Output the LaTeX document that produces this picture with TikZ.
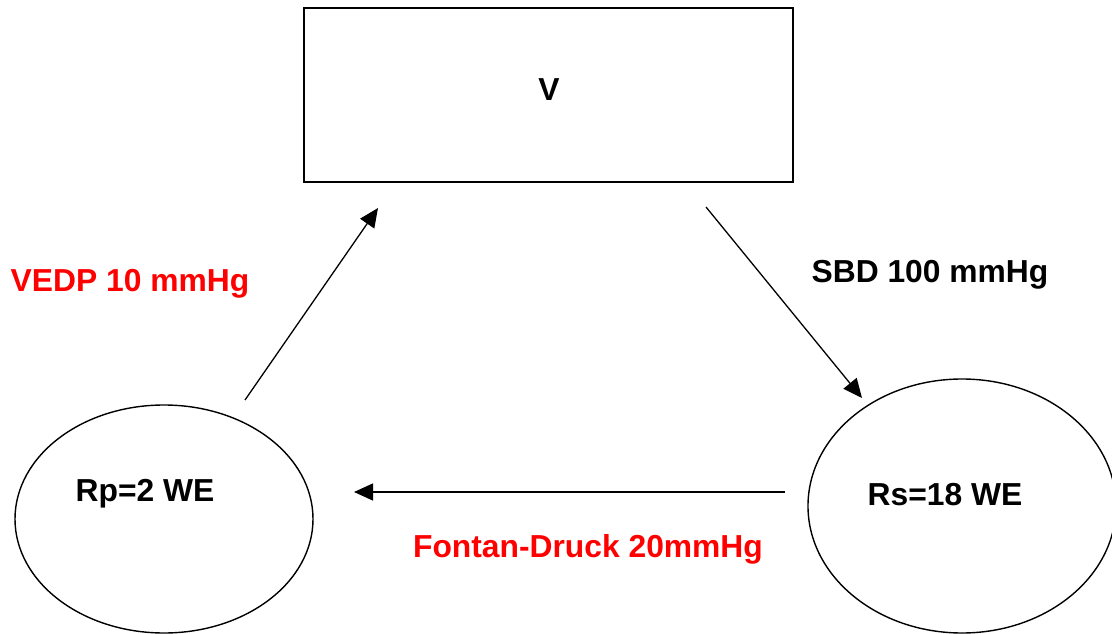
\documentclass[tikz,border=0pt]{standalone}
\usepackage{fontspec}
\setmainfont{Liberation Sans}
\usetikzlibrary{arrows.meta,shapes.geometric}
\definecolor{lblred}{RGB}{255,0,0}
\tikzset{
  box/.style={draw=black,line width=1.6pt,minimum width=489pt,minimum height=174pt,inner sep=0pt},
  oval/.style={draw=black,ellipse,line width=1.4pt,inner sep=0pt},
  lbl/.style={font=\fontsize{31.8}{36}\selectfont\bfseries,inner sep=0pt},
  redlbl/.style={lbl,text=lblred},
  flow/.style={line width=1.3pt,-{Triangle[length=19pt,width=17pt]}}
}
\begin{document}
\begin{tikzpicture}[x=1pt,y=-1pt]
\useasboundingbox (0,0) rectangle (1112,634);
\node[box] (v) at (548.5,95) {};
\node[lbl] (vt) at (549,90) {V};
\node[oval,minimum width=298pt,minimum height=228pt] (rp) at (164,519) {};
\node[oval,minimum width=308pt,minimum height=254pt] (rs) at (962,506) {};
\node[lbl] (rpt) at (145,494) {Rp=2 WE};
\node[lbl] (rst) at (945,495) {Rs=18 WE};
\node[redlbl] (vedp) at (130,284) {VEDP 10 mmHg};
\node[lbl] (sbd) at (930,275) {SBD 100 mmHg};
\node[redlbl] (fontan) at (588,549) {Fontan-Druck 20mmHg};
\coordinate (a1s) at (245,400);
\coordinate (a1e) at (378,208);
\coordinate (a2s) at (706,207);
\coordinate (a2e) at (862,398);
\coordinate (a3s) at (785,492);
\coordinate (a3e) at (354,492);
\draw[flow] (a1s) -- (a1e);
\draw[flow] (a2s) -- (a2e);
\draw[flow] (a3s) -- (a3e);
\end{tikzpicture}
\end{document}
